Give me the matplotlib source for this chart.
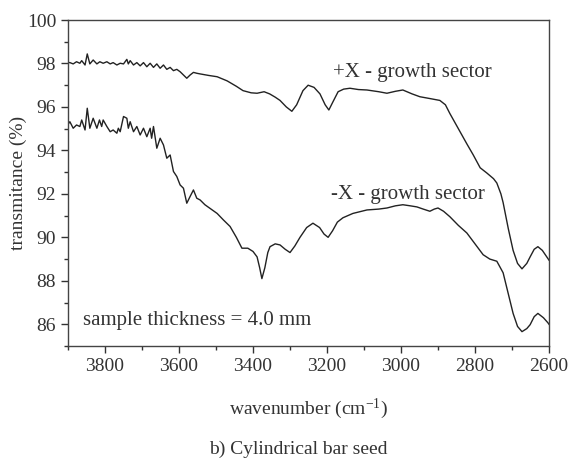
import matplotlib
matplotlib.use("Agg")
import matplotlib.pyplot as plt
from matplotlib.ticker import MultipleLocator

plt.rcParams['font.family'] = ['Liberation Serif', 'DejaVu Serif']
plt.rcParams['mathtext.default'] = 'regular'

# +X growth sector spectrum (wavenumber, transmittance)
plus_wn = [3900, 3895, 3886, 3877, 3868, 3863, 3854, 3848, 3841, 3832, 3822,
           3814, 3805, 3795, 3786, 3778, 3768, 3759, 3750, 3741, 3737, 3732,
           3723, 3714, 3705, 3696, 3687, 3678, 3669, 3660, 3651, 3642, 3633,
           3624, 3615, 3606, 3597, 3588, 3579, 3570, 3561, 3552, 3543,
           3520, 3497, 3470, 3445, 3427, 3405, 3389, 3370, 3355, 3340, 3327,
           3310, 3295, 3282, 3265, 3251, 3235, 3219, 3205, 3195, 3185, 3170,
           3155, 3138, 3115, 3092, 3060, 3038, 3015, 2995, 2970, 2949, 2920,
           2895, 2880, 2868, 2845, 2822, 2805, 2786, 2768, 2750, 2741, 2730,
           2724, 2710, 2697, 2685, 2673, 2660, 2651, 2640, 2630, 2618, 2610,
           2600]
plus_t = [98.04, 98.04, 97.98, 98.08, 98.01, 98.13, 97.93, 98.44, 97.98, 98.16, 97.98,
          98.08, 98.01, 98.08, 97.98, 98.04, 97.93, 98.01, 97.98, 98.19, 97.98, 98.13,
          97.93, 98.04, 97.89, 98.04, 97.85, 98.01, 97.82, 97.98, 97.78, 97.93, 97.73,
          97.82, 97.67, 97.73, 97.62, 97.47, 97.32, 97.47, 97.59, 97.55, 97.52,
          97.45, 97.39, 97.2, 96.95, 96.75, 96.65, 96.63, 96.7, 96.6, 96.45, 96.3,
          96.0, 95.8, 96.1, 96.75, 97.0, 96.9, 96.6, 96.1, 95.86, 96.2, 96.7,
          96.82, 96.86, 96.8, 96.78, 96.7, 96.63, 96.72, 96.78, 96.6, 96.47, 96.38,
          96.3, 96.1, 95.7, 95.0, 94.3, 93.8, 93.2, 92.96, 92.7, 92.5, 92.0,
          91.6, 90.4, 89.4, 88.8, 88.55, 88.8, 89.1, 89.45, 89.57, 89.4, 89.2,
          88.95]

# -X growth sector spectrum
minus_wn = [3900, 3895, 3886, 3877, 3868, 3863, 3854, 3848, 3841, 3832, 3822,
            3815, 3809, 3805, 3795, 3786, 3778, 3768, 3764, 3759, 3750, 3741,
            3737, 3732, 3723, 3714, 3705, 3696, 3687, 3678, 3674, 3669, 3660,
            3651, 3642, 3633, 3624, 3615, 3606, 3597, 3588, 3579, 3570, 3561,
            3552, 3543, 3530, 3497, 3480, 3462, 3445, 3430, 3414, 3400, 3389,
            3382, 3376, 3368, 3360, 3354, 3340, 3327, 3313, 3300, 3287, 3273,
            3255, 3238, 3220, 3208, 3197, 3185, 3172, 3157, 3130, 3092, 3060,
            3038, 3015, 2995, 2975, 2957, 2940, 2922, 2910, 2900, 2885, 2868,
            2845, 2822, 2800, 2778, 2760, 2741, 2724, 2710, 2697, 2685, 2673,
            2660, 2651, 2640, 2630, 2615, 2603, 2600]
minus_t = [95.2, 95.32, 95.02, 95.17, 95.1, 95.4, 94.94, 95.94, 95.02, 95.48, 95.02,
           95.4, 95.1, 95.4, 95.1, 94.86, 94.94, 94.79, 95.02, 94.86, 95.56, 95.48,
           95.02, 95.32, 94.86, 95.1, 94.71, 95.02, 94.63, 95.02, 94.56, 95.1, 94.1,
           94.56, 94.25, 93.64, 93.79, 93.03, 92.8, 92.41, 92.26, 91.57, 91.88, 92.18,
           91.8, 91.72, 91.5, 91.1, 90.8, 90.5, 90.0, 89.5, 89.5, 89.35, 89.1,
           88.6, 88.1, 88.6, 89.3, 89.57, 89.7, 89.65, 89.45, 89.3, 89.6, 90.0,
           90.45, 90.65, 90.45, 90.15, 90.0, 90.3, 90.7, 90.9, 91.1, 91.26, 91.3,
           91.35, 91.45, 91.5, 91.45, 91.4, 91.3, 91.2, 91.3, 91.35, 91.2, 90.95,
           90.55, 90.2, 89.7, 89.2, 89.0, 88.9, 88.37, 87.4, 86.5, 85.9, 85.66,
           85.8, 85.98, 86.35, 86.5, 86.3, 86.07, 86.0]

fig = plt.figure(figsize=(5.73, 4.59), dpi=100)
ax = fig.add_axes([0.1187, 0.2462, 0.8394, 0.7102])

ax.plot(plus_wn, plus_t, color='#222222', lw=1.0)
ax.plot(minus_wn, minus_t, color='#222222', lw=1.0)

ax.set_xlim(3900, 2600)
ax.set_ylim(85, 100)
ax.xaxis.set_major_locator(MultipleLocator(200))
ax.xaxis.set_minor_locator(MultipleLocator(100))
ax.yaxis.set_major_locator(MultipleLocator(2))
ax.yaxis.set_minor_locator(MultipleLocator(1))
ax.tick_params(which='both', direction='out', top=False, right=False,
               labelsize=14, color='#333333', labelcolor='#333333')
ax.tick_params(which='major', length=5, width=1)
ax.tick_params(which='minor', length=3, width=1)
for sp in ax.spines.values():
    sp.set_color('#444444')
    sp.set_linewidth(1)

ax.set_xlabel('wavenumber (cm$^{-1}$)', fontsize=14, color='#333333', labelpad=16)
ax.set_ylabel('transmitance (%)', fontsize=14, color='#333333', labelpad=0)

ax.text(2970, 97.4, '+X - growth sector', fontsize=15, color='#333333', ha='center')
ax.text(2980, 91.75, '-X - growth sector', fontsize=15, color='#333333', ha='center')
ax.text(3860, 85.95, 'sample thickness = 4.0 mm', fontsize=15, color='#333333')

fig.text(0.52, 0.012, 'b) Cylindrical bar seed', fontsize=14, color='#333333', ha='center')

fig.savefig('out.png', dpi=100)
